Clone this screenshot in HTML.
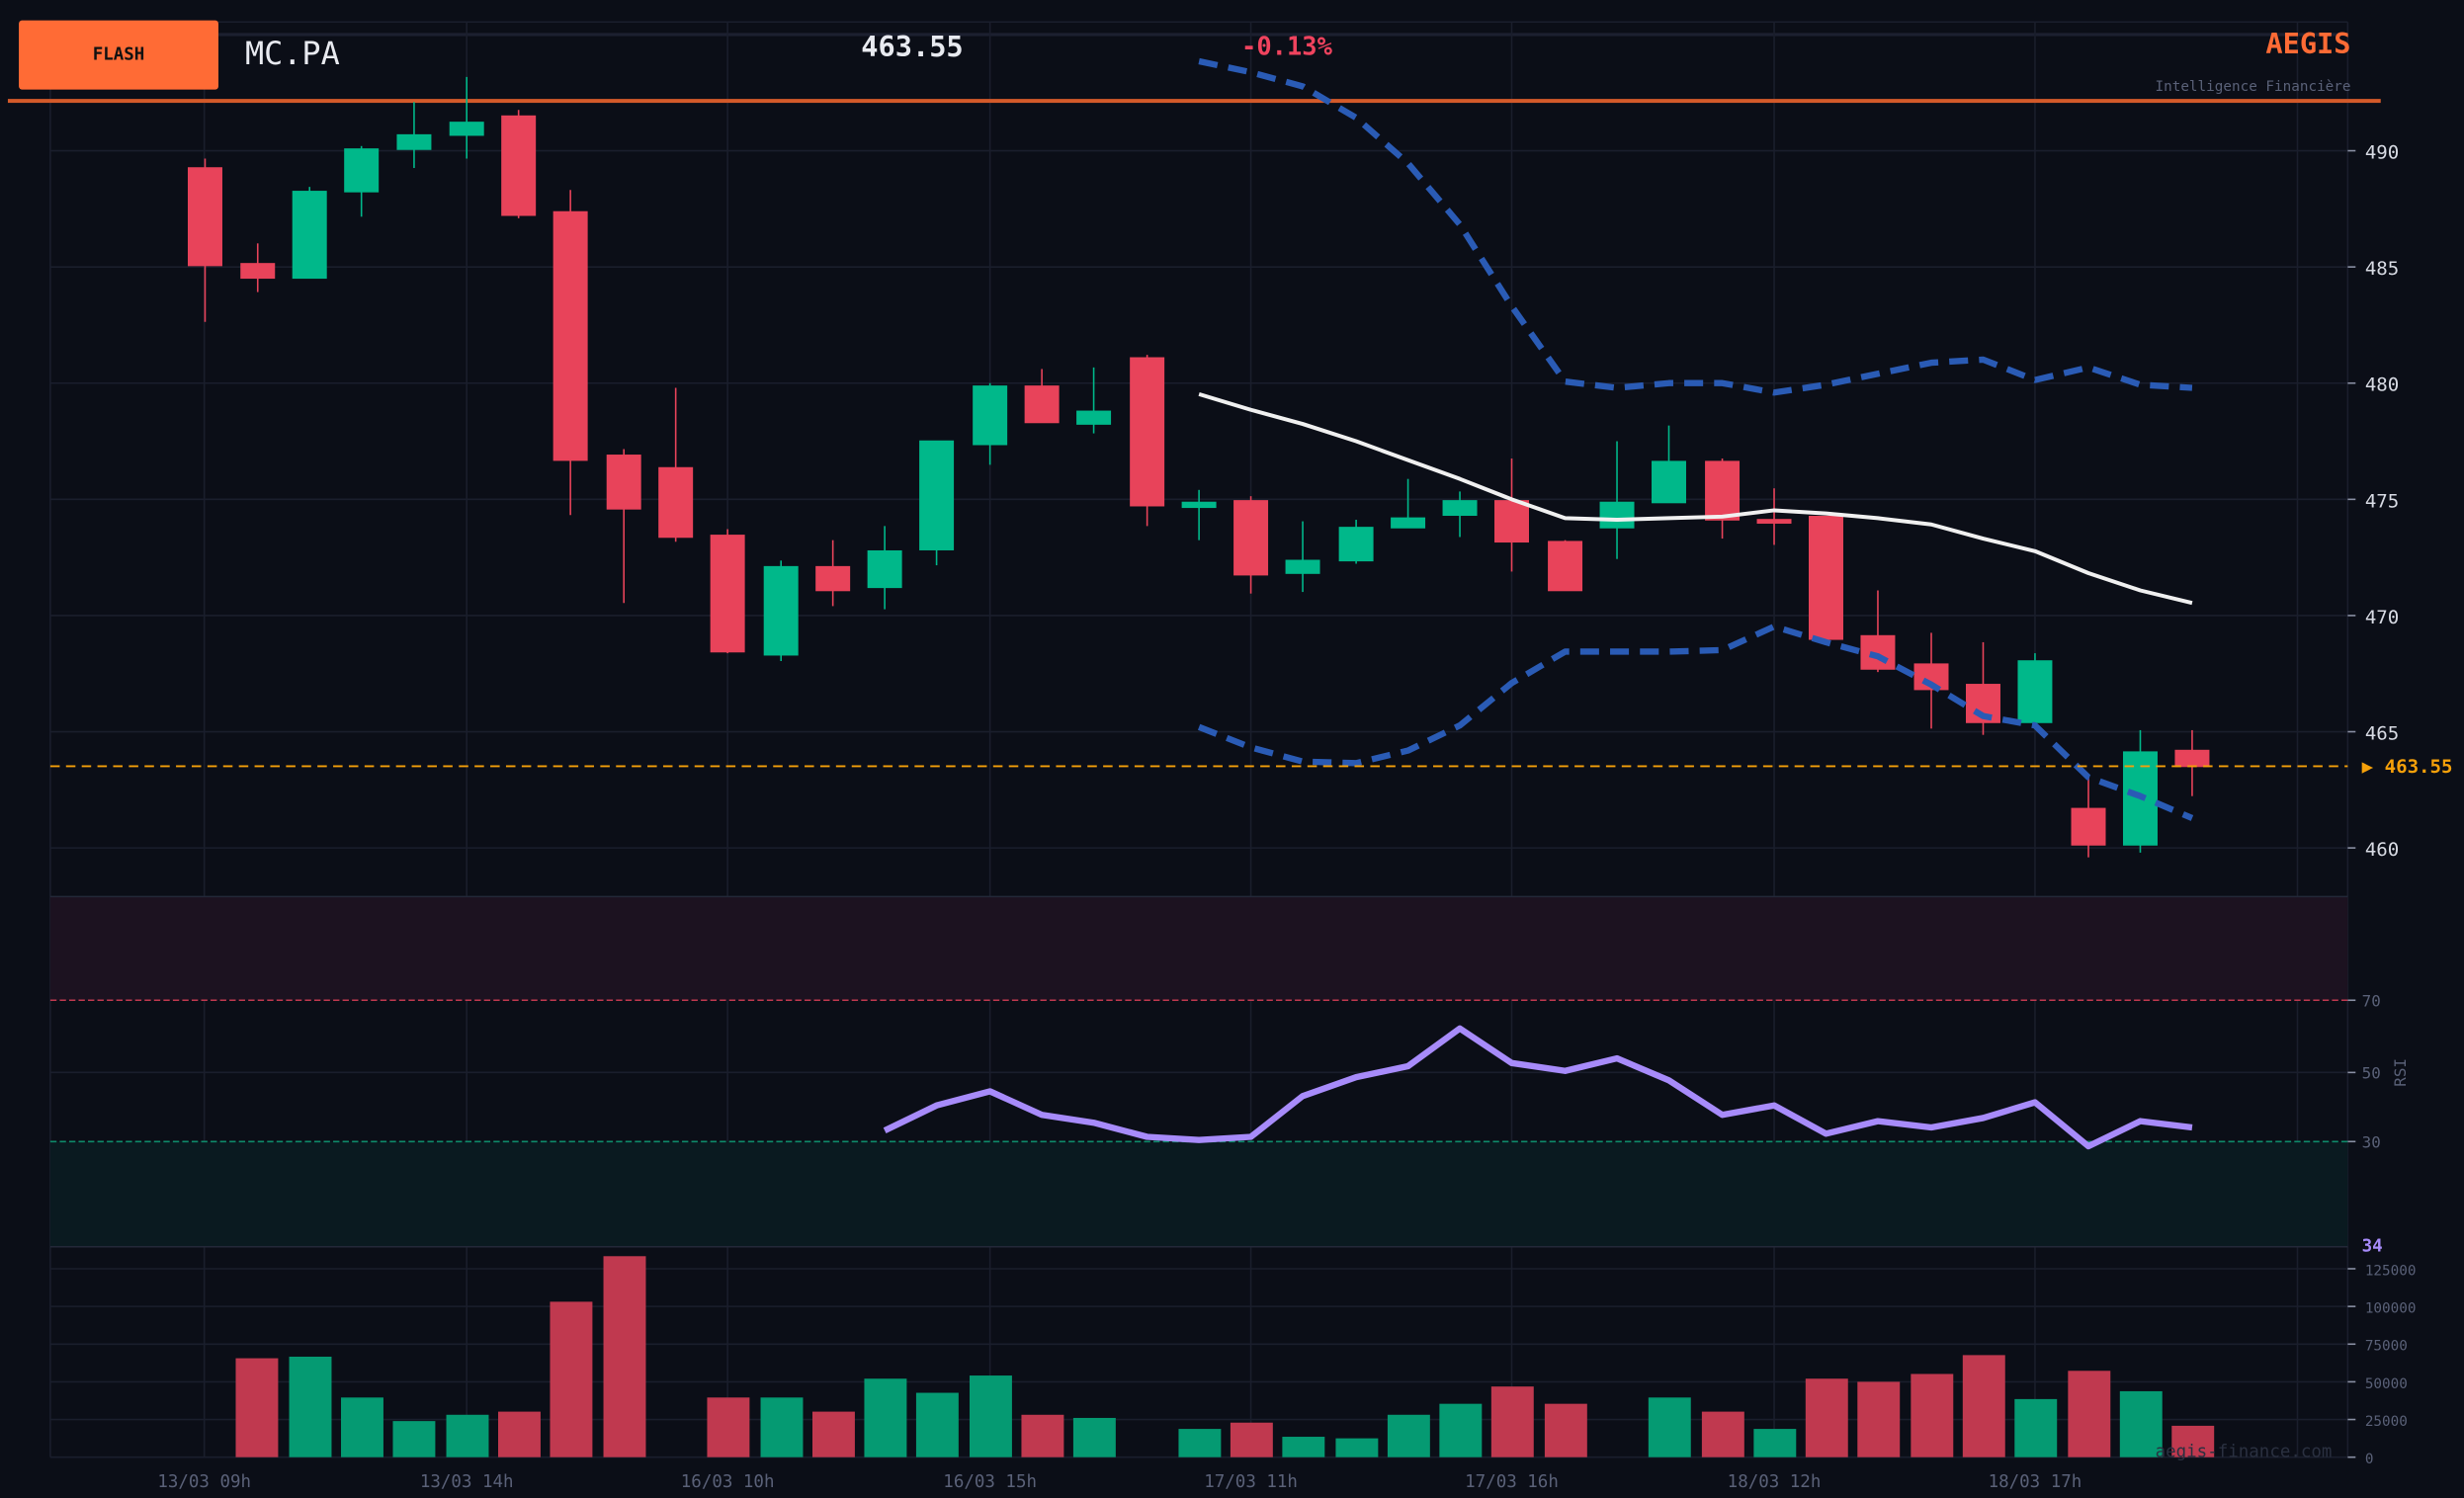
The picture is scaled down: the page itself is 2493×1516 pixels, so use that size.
<!DOCTYPE html>
<html><head><meta charset="utf-8"><style>
html,body{margin:0;padding:0;background:#0b0e17;}
svg{display:block;}
text{font-family:"DejaVu Sans Mono","Liberation Mono",monospace;}
</style></head><body>
<svg width="2493" height="1516" viewBox="0 0 1568 954" preserveAspectRatio="none" xmlns="http://www.w3.org/2000/svg">
<rect x="0" y="0" width="1568" height="954" fill="#0b0e17"/>
<!-- grid -->
<g stroke="#1a1e2c" stroke-width="1">
<line x1="32" y1="14" x2="1494" y2="14"/>
<line x1="32" y1="22" x2="1494" y2="22" stroke="#1c2030" stroke-width="2"/>
<line x1="32" y1="96" x2="1494" y2="96"/><line x1="32" y1="170" x2="1494" y2="170"/>
<line x1="32" y1="244" x2="1494" y2="244"/><line x1="32" y1="318" x2="1494" y2="318"/>
<line x1="32" y1="392" x2="1494" y2="392"/><line x1="32" y1="466" x2="1494" y2="466"/>
<line x1="32" y1="540" x2="1494" y2="540"/>
<line x1="32" y1="683" x2="1494" y2="683"/>
<line x1="32" y1="808" x2="1494" y2="808"/><line x1="32" y1="832" x2="1494" y2="832"/>
<line x1="32" y1="856" x2="1494" y2="856"/><line x1="32" y1="880" x2="1494" y2="880"/>
<line x1="32" y1="904" x2="1494" y2="904"/><line x1="32" y1="928" x2="1494" y2="928"/>
<line x1="32" y1="14" x2="32" y2="928"/>
<line x1="130" y1="14" x2="130" y2="928"/><line x1="297" y1="14" x2="297" y2="928"/>
<line x1="463" y1="14" x2="463" y2="928"/><line x1="630" y1="14" x2="630" y2="928"/>
<line x1="796" y1="14" x2="796" y2="928"/><line x1="962" y1="14" x2="962" y2="928"/>
<line x1="1129" y1="14" x2="1129" y2="928"/><line x1="1295" y1="14" x2="1295" y2="928"/>
<line x1="1462" y1="14" x2="1462" y2="928"/>
<line x1="1494" y1="14" x2="1494" y2="928"/>
</g>
<!-- header -->
<rect x="12" y="13" width="127" height="44" rx="2" fill="#ff6b35"/>
<text x="75.5" y="38" font-size="11" font-weight="bold" fill="#111" text-anchor="middle">FLASH</text>
<text x="156" y="41" font-size="20" fill="#e8eaf0">MC.PA</text>
<text x="548" y="36" font-size="18" font-weight="bold" fill="#e8eaf0">463.55</text>
<text x="790" y="35" font-size="16" font-weight="bold" fill="#f0435e">-0.13%</text>
<text x="1496" y="34" font-size="18" font-weight="bold" fill="#ff6b35" text-anchor="end">AEGIS</text>
<text x="1496" y="58" font-size="9" fill="#5a6178" text-anchor="end">Intelligence Financière</text>
<rect x="5" y="63" width="1510" height="2.5" fill="#d45a2a"/>
<!-- price labels -->
<g font-size="12" fill="#d8dbe4">
<text x="1505" y="101">490</text><text x="1505" y="175">485</text><text x="1505" y="249">480</text>
<text x="1505" y="323">475</text><text x="1505" y="397">470</text><text x="1505" y="471">465</text>
<text x="1505" y="545">460</text>
</g>
<g stroke="#8a90a4" stroke-width="1">
<line x1="1494" y1="96" x2="1499" y2="96"/><line x1="1494" y1="170" x2="1499" y2="170"/>
<line x1="1494" y1="244" x2="1499" y2="244"/><line x1="1494" y1="318" x2="1499" y2="318"/>
<line x1="1494" y1="392" x2="1499" y2="392"/><line x1="1494" y1="466" x2="1499" y2="466"/>
<line x1="1494" y1="540" x2="1499" y2="540"/>
<line x1="1494" y1="637" x2="1499" y2="637"/><line x1="1494" y1="683" x2="1499" y2="683"/>
<line x1="1494" y1="727" x2="1499" y2="727"/>
<line x1="1494" y1="808" x2="1499" y2="808"/><line x1="1494" y1="832" x2="1499" y2="832"/>
<line x1="1494" y1="856" x2="1499" y2="856"/><line x1="1494" y1="880" x2="1499" y2="880"/>
<line x1="1494" y1="904" x2="1499" y2="904"/><line x1="1494" y1="928" x2="1499" y2="928"/>
</g>
<!-- candles -->
<g id="c" stroke-width="1">
<g stroke="#e8435a" fill="#e8435a">
<line x1="130.5" y1="101" x2="130.5" y2="205"/><rect x="120" y="107" width="21" height="62"/>
<line x1="164" y1="155" x2="164" y2="186"/><rect x="153.5" y="168" width="21" height="9"/>
<line x1="330" y1="70" x2="330" y2="139"/><rect x="319.5" y="74" width="21" height="63"/>
<line x1="363" y1="121" x2="363" y2="328"/><rect x="352.5" y="135" width="21" height="158"/>
<line x1="397" y1="286" x2="397" y2="384"/><rect x="386.5" y="290" width="21" height="34"/>
<line x1="430" y1="247" x2="430" y2="345"/><rect x="419.5" y="298" width="21" height="44"/>
<line x1="463" y1="337" x2="463" y2="416"/><rect x="452.5" y="341" width="21" height="74"/>
<line x1="530" y1="344" x2="530" y2="386"/><rect x="519.5" y="361" width="21" height="15"/>
<line x1="663" y1="235" x2="663" y2="269"/><rect x="652.5" y="246" width="21" height="23"/>
<line x1="730" y1="226" x2="730" y2="335"/><rect x="719.5" y="228" width="21" height="94"/>
<line x1="796" y1="316" x2="796" y2="378"/><rect x="785.5" y="319" width="21" height="47"/>
<line x1="962" y1="292" x2="962" y2="364"/><rect x="951.5" y="319" width="21" height="26"/>
<line x1="996" y1="344" x2="996" y2="376"/><rect x="985.5" y="345" width="21" height="31"/>
<line x1="1096" y1="292" x2="1096" y2="343"/><rect x="1085.5" y="294" width="21" height="37"/>
<line x1="1129" y1="311" x2="1129" y2="347"/><rect x="1118.5" y="331" width="21" height="2"/>
<line x1="1162" y1="329" x2="1162" y2="407"/><rect x="1151.5" y="329" width="21" height="78"/>
<line x1="1195" y1="376" x2="1195" y2="428"/><rect x="1184.5" y="405" width="21" height="21"/>
<line x1="1229" y1="403" x2="1229" y2="464"/><rect x="1218.5" y="423" width="21" height="16"/>
<line x1="1262" y1="409" x2="1262" y2="468"/><rect x="1251.5" y="436" width="21" height="24"/>
<line x1="1329" y1="493" x2="1329" y2="546"/><rect x="1318.5" y="515" width="21" height="23"/>
<line x1="1395" y1="465" x2="1395" y2="507"/><rect x="1384.5" y="478" width="21" height="10"/>
</g>
<g stroke="#00b88a" fill="#00b88a">
<line x1="197" y1="119" x2="197" y2="177"/><rect x="186.5" y="122" width="21" height="55"/>
<line x1="230" y1="93" x2="230" y2="138"/><rect x="219.5" y="95" width="21" height="27"/>
<line x1="263.5" y1="65" x2="263.5" y2="107"/><rect x="253" y="86" width="21" height="9"/>
<line x1="297" y1="49" x2="297" y2="101"/><rect x="286.5" y="78" width="21" height="8"/>
<line x1="497" y1="357" x2="497" y2="421"/><rect x="486.5" y="361" width="21" height="56"/>
<line x1="563" y1="335" x2="563" y2="388"/><rect x="552.5" y="351" width="21" height="23"/>
<line x1="596" y1="281" x2="596" y2="360"/><rect x="585.5" y="281" width="21" height="69"/>
<line x1="630" y1="244" x2="630" y2="296"/><rect x="619.5" y="246" width="21" height="37"/>
<line x1="696" y1="234" x2="696" y2="276"/><rect x="685.5" y="262" width="21" height="8"/>
<line x1="763" y1="312" x2="763" y2="344"/><rect x="752.5" y="320" width="21" height="3"/>
<line x1="829" y1="332" x2="829" y2="377"/><rect x="818.5" y="357" width="21" height="8"/>
<line x1="863" y1="331" x2="863" y2="359"/><rect x="852.5" y="336" width="21" height="21"/>
<line x1="896" y1="305" x2="896" y2="336"/><rect x="885.5" y="330" width="21" height="6"/>
<line x1="929" y1="313" x2="929" y2="342"/><rect x="918.5" y="319" width="21" height="9"/>
<line x1="1029" y1="281" x2="1029" y2="356"/><rect x="1018.5" y="320" width="21" height="16"/>
<line x1="1062" y1="271" x2="1062" y2="320"/><rect x="1051.5" y="294" width="21" height="26"/>
<line x1="1295" y1="416" x2="1295" y2="460"/><rect x="1284.5" y="421" width="21" height="39"/>
<line x1="1362" y1="465" x2="1362" y2="543"/><rect x="1351.5" y="479" width="21" height="59"/>
</g>
</g>
<!-- bollinger -->
<g fill="none" stroke-linejoin="round">
<polyline stroke="#2a5bb5" stroke-width="4" stroke-dasharray="12,7" points="763,39 796,46 829,55 863,75 896,104 929,143 962,195 996,243 1029,247 1062,244 1096,244 1129,250 1162,245 1195,238 1229,231 1262,229 1295,242 1329,234 1362,245 1395,247"/>
<polyline stroke="#f0f0f0" stroke-width="2.5" points="763,251 796,261 829,270 863,281 896,293 929,305 962,318 996,330 1029,331 1062,330 1096,329 1129,325 1162,327 1195,330 1229,334 1262,343 1295,351 1329,365 1362,376 1395,384"/>
<polyline stroke="#2a5bb5" stroke-width="4" stroke-dasharray="12,7" points="763,463 796,476 829,485 863,486 896,478 929,462 962,435 996,415 1029,415 1062,415 1096,414 1129,399 1162,409 1195,418 1229,436 1262,456 1295,462 1329,495 1362,507 1395,521"/>
</g>
<line x1="32" y1="488" x2="1494" y2="488" stroke="#f5a00a" stroke-width="1.2" stroke-dasharray="6,4"/>
<text x="1503" y="492" font-size="12" font-weight="bold" fill="#f5a00a">▶ 463.55</text>
<!-- RSI -->
<rect x="32" y="571" width="1462" height="66" fill="#1c1220"/>
<rect x="32" y="727" width="1462" height="67" fill="#0a1a20"/>
<line x1="32" y1="571" x2="1494" y2="571" stroke="#232838"/>
<line x1="32" y1="794" x2="1494" y2="794" stroke="#232838"/>
<line x1="32" y1="637" x2="1494" y2="637" stroke="#c0394f" stroke-width="1" stroke-dasharray="4,2"/>
<line x1="32" y1="727" x2="1494" y2="727" stroke="#0e8a6a" stroke-width="1" stroke-dasharray="4,2"/>
<g font-size="10" fill="#5a6178">
<text x="1503" y="641">70</text><text x="1503" y="687">50</text><text x="1503" y="731">30</text>
<text x="1531" y="683" transform="rotate(-90 1531 683)" text-anchor="middle">RSI</text>
</g>
<text x="1503" y="797" font-size="11" font-weight="bold" fill="#a78bfa">34</text>
<polyline fill="none" stroke="#a78bfa" stroke-width="4" stroke-linejoin="round" points="563,720 596,704 630,695 663,710 696,715 730,724 763,726 796,724 829,698 863,686 896,679 929,655 962,677 996,682 1029,674 1062,688 1096,710 1129,704 1162,722 1195,714 1229,718 1262,712 1295,702 1329,730 1362,714 1395,718"/>
<!-- volume -->
<g fill="#c0394f">
<rect x="150" y="865" width="27" height="63"/><rect x="317" y="899" width="27" height="29"/>
<rect x="350" y="829" width="27" height="99"/><rect x="384" y="800" width="27" height="128"/>
<rect x="450" y="890" width="27" height="38"/><rect x="517" y="899" width="27" height="29"/>
<rect x="650" y="901" width="27" height="27"/><rect x="783" y="906" width="27" height="22"/>
<rect x="949" y="883" width="27" height="45"/><rect x="983" y="894" width="27" height="34"/>
<rect x="1083" y="899" width="27" height="29"/><rect x="1149" y="878" width="27" height="50"/>
<rect x="1182" y="880" width="27" height="48"/><rect x="1216" y="875" width="27" height="53"/>
<rect x="1249" y="863" width="27" height="65"/><rect x="1316" y="873" width="27" height="55"/>
<rect x="1382" y="908" width="27" height="20"/>
</g>
<g fill="#059a72">
<rect x="184" y="864" width="27" height="64"/><rect x="217" y="890" width="27" height="38"/>
<rect x="250" y="905" width="27" height="23"/><rect x="284" y="901" width="27" height="27"/>
<rect x="484" y="890" width="27" height="38"/><rect x="550" y="878" width="27" height="50"/>
<rect x="583" y="887" width="27" height="41"/><rect x="617" y="876" width="27" height="52"/>
<rect x="683" y="903" width="27" height="25"/><rect x="750" y="910" width="27" height="18"/>
<rect x="816" y="915" width="27" height="13"/><rect x="850" y="916" width="27" height="12"/>
<rect x="883" y="901" width="27" height="27"/><rect x="916" y="894" width="27" height="34"/>
<rect x="1049" y="890" width="27" height="38"/><rect x="1116" y="910" width="27" height="18"/>
<rect x="1282" y="891" width="27" height="37"/><rect x="1349" y="886" width="27" height="42"/>
</g>
<g font-size="9" fill="#5a6178">
<text x="1505" y="812">125000</text><text x="1505" y="836">100000</text><text x="1505" y="860">75000</text>
<text x="1505" y="884">50000</text><text x="1505" y="908">25000</text><text x="1505" y="932">0</text>
</g>
<text x="1484" y="928" font-size="11" fill="#2a3040" text-anchor="end">aegis-finance.com</text>
<!-- x labels -->
<g font-size="11" fill="#5a6178" text-anchor="middle">
<text x="130" y="947">13/03 09h</text><text x="297" y="947">13/03 14h</text>
<text x="463" y="947">16/03 10h</text><text x="630" y="947">16/03 15h</text>
<text x="796" y="947">17/03 11h</text><text x="962" y="947">17/03 16h</text>
<text x="1129" y="947">18/03 12h</text><text x="1295" y="947">18/03 17h</text>
</g>
</svg>
</body></html>
